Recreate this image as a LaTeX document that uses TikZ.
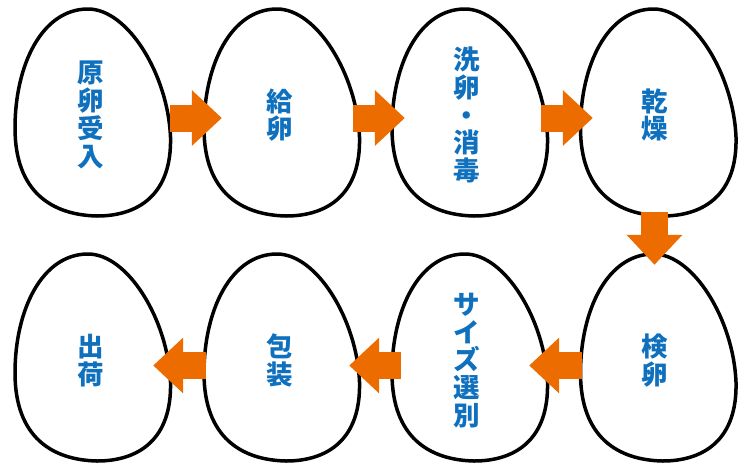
\documentclass[tikz,border=0pt]{standalone}
\usepackage{fontspec}
\newfontfamily\jpfont{Noto Sans CJK JP}
\usetikzlibrary{arrows.meta}
\definecolor{eggblue}{HTML}{0F70BE}
\definecolor{floworange}{HTML}{EC6C00}
\newcommand{\eggpath}{(-4.5,-103.5) .. controls (35.5,-103.5) and (75.5,-37.5) .. (78,24.5)
  .. controls (79.5,82.5) and (45.5,103.5) .. (4.5,103.5)
  .. controls (-40.5,102.5) and (-77.5,79.5) .. (-77.5,15.5)
  .. controls (-77.5,-47.5) and (-50.5,-103.5) .. (-4.5,-103.5) -- cycle}

\begin{document}
\begin{tikzpicture} [x=1pt,y=-1pt]
  \tikzstyle{eggline}=[draw=black,line width=3.5pt,fill=white]
  \tikzstyle{egg}=[minimum width=155pt,minimum height=207pt,inner sep=0pt,align=center,text=eggblue,font=\jpfont\bfseries\fontsize{26.5}{27.8}\selectfont]
  \tikzstyle{flow}=[draw=floworange,line width=27pt,-{Triangle[length=30pt,width=54pt]},color=floworange]

  \useasboundingbox (0,0) rectangle (747,472);

  \foreach \n/\x/\y/\ex/\ey/\lbl in {genran/91/115/92.5/112.5/{原\\卵\\受\\入},
                             kyuran/280/115/281.5/112.5/{給\\卵},
                             senran/466.5/115/469.5/112.5/{洗\\卵\\・\\消\\毒},
                             kanso/654.5/115/658/112.5/{乾\\燥},
                             kenran/654.5/360.5/658/357.5/{検\\卵},
                             senbetsu/466.5/360.5/469.5/357.5/{サ\\イ\\ズ\\選\\別},
                             hoso/280/360.5/281.5/357.5/{包\\装},
                             shukka/91/360.5/92.5/357.5/{出\\荷}} {
    \draw[eggline,shift={(\ex,\ey)}] \eggpath;
    \node[egg] (\n) at (\x,\y) {\lbl};
  }

  \draw[flow,shorten <=1.5pt,shorten >=-19.5pt] ([yshift=-3pt]genran.east) -- ([yshift=-3pt]kyuran.west);
  \draw[flow,shorten <=-4.5pt,shorten >=-16pt] ([yshift=-3pt]kyuran.east) -- ([yshift=-3pt]senran.west);
  \draw[flow,shorten <=-3pt,shorten >=-16pt] ([yshift=-3pt]senran.east) -- ([yshift=-3pt]kanso.west);
  \draw[flow,shorten <=-6.5pt,shorten >=-8pt] (kanso.south) -- (kenran.north);
  \draw[flow,shorten <=-5pt,shorten >=-15pt] ([yshift=-5pt]kenran.west) -- ([yshift=-5pt]senbetsu.east);
  \draw[flow,shorten <=-12pt,shorten >=-8.5pt] ([yshift=-5pt]senbetsu.west) -- ([yshift=-5pt]hoso.east);
  \draw[flow,shorten <=-3.5pt,shorten >=-15.5pt] ([yshift=-5pt]hoso.west) -- ([yshift=-5pt]shukka.east);
\end{tikzpicture}
\end{document}
